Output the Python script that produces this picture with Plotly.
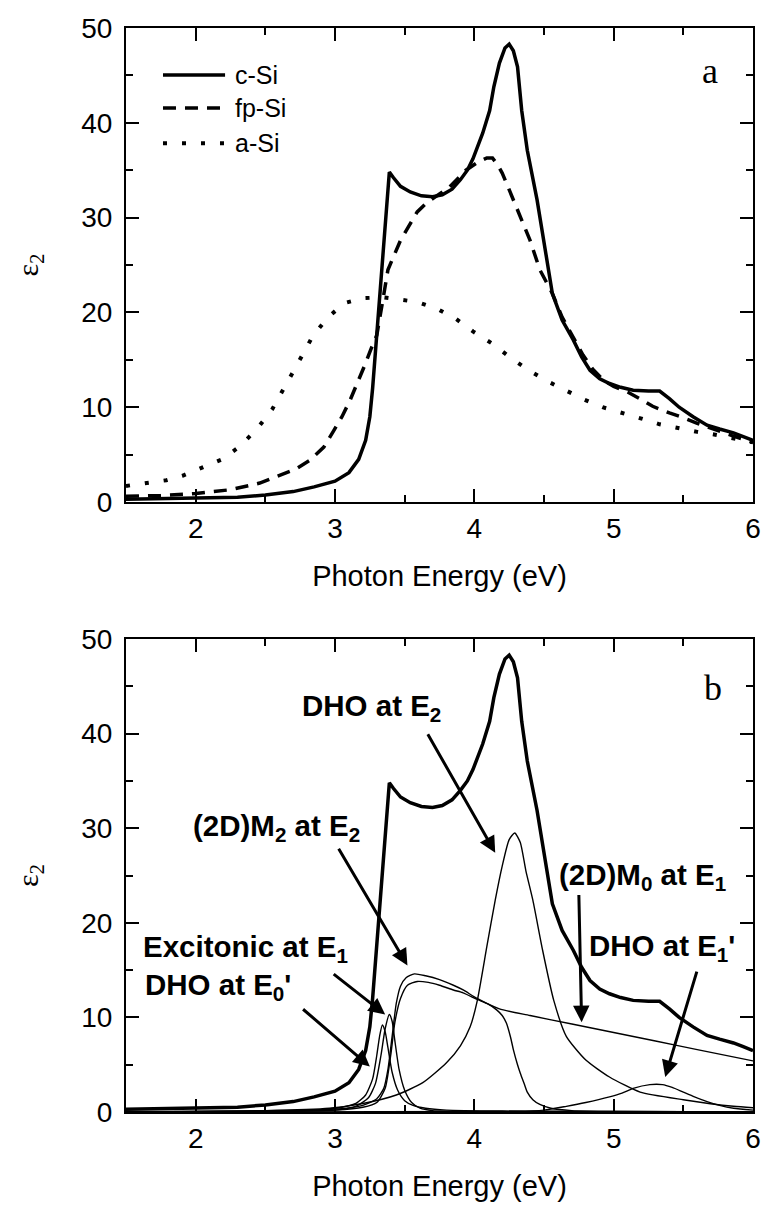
import plotly.graph_objects as go

# ---------------- Panel a data ----------------
csi_E = [1.5, 1.8, 2.0, 2.3, 2.5, 2.7, 2.85, 3.0, 3.1, 3.17, 3.22, 3.25, 3.27, 3.29, 3.32, 3.36, 3.39, 3.42,
         3.47, 3.54, 3.62, 3.70, 3.77, 3.84, 3.90, 3.95, 3.99, 4.06, 4.11, 4.14, 4.18, 4.22, 4.25, 4.28, 4.31,
         4.34, 4.38, 4.45, 4.50, 4.56, 4.63, 4.71, 4.77, 4.83, 4.90, 4.97, 5.05, 5.14, 5.25, 5.33, 5.40, 5.47,
         5.57, 5.67, 5.76, 5.86, 5.93, 6.0]
csi_eps = [0.3, 0.35, 0.4, 0.5, 0.75, 1.1, 1.6, 2.2, 3.1, 4.5, 6.5, 9.0, 12.0, 16.0, 22.0, 30.0, 34.8, 34.2,
           33.3, 32.7, 32.3, 32.2, 32.4, 33.0, 34.0, 35.0, 36.2, 38.9, 41.3, 43.8, 46.3, 47.9, 48.3, 47.6, 45.9,
           41.3, 37.1, 31.9, 27.6, 22.0, 19.2, 17.1, 15.3, 13.9, 13.0, 12.5, 12.1, 11.8, 11.7, 11.7, 10.9, 10.0,
           9.0, 8.1, 7.7, 7.3, 6.9, 6.5]

fpsi_E = [1.5, 1.75, 2.0, 2.25, 2.46, 2.6, 2.72, 2.82, 2.92, 2.99, 3.05, 3.11, 3.16, 3.21, 3.26, 3.30, 3.34,
          3.38, 3.47, 3.59, 3.66, 3.74, 3.82, 3.94, 4.02, 4.09, 4.13, 4.17, 4.20, 4.24, 4.31, 4.40, 4.47, 4.56,
          4.63, 4.71, 4.78, 4.85, 4.93, 5.0, 5.1, 5.2, 5.28, 5.4, 5.5, 5.6, 5.71, 5.85, 6.0]
fpsi_eps = [0.6, 0.7, 0.9, 1.3, 2.0, 2.8, 3.5, 4.4, 5.8, 7.5, 9.0, 10.8, 12.5, 14.3, 16.2, 17.6, 21.0,
            24.5, 27.6, 30.6, 31.6, 32.4, 33.2, 35.0, 35.8, 36.3, 36.3, 35.5, 34.7, 33.3, 30.8, 27.6, 24.5, 22.0,
            19.5, 17.3, 15.5, 14.0, 12.8, 12.2, 11.6, 10.8, 10.1, 9.4, 8.9, 8.3, 7.7, 7.0, 6.3]

asi_E = [1.5, 1.67, 1.79, 1.91, 2.05, 2.19, 2.32, 2.45, 2.55, 2.62, 2.70, 2.77, 2.84, 2.95, 3.07, 3.20, 3.34,
         3.47, 3.59, 3.73, 3.87, 3.99, 4.13, 4.27, 4.40, 4.53, 4.66, 4.79, 4.92, 5.07, 5.20, 5.33, 5.46, 5.60,
         5.73, 5.86, 6.0]
asi_eps = [1.7, 2.0, 2.3, 2.8, 3.7, 4.5, 5.9, 7.9, 9.8, 11.6, 13.7, 15.6, 17.5, 19.5, 21.0, 21.5, 21.6,
           21.3, 21.1, 20.4, 19.3, 18.0, 16.7, 15.1, 13.8, 12.7, 11.7, 10.8, 10.0, 9.4, 8.8, 8.2, 7.8, 7.4,
           7.1, 6.7, 6.3]

legend_labels = ["c-Si", "fp-Si", "a-Si"]

# ---------------- Panel b components ----------------
dho_e0p_E = [1.5, 2.5, 2.9, 3.05, 3.15, 3.22, 3.27, 3.30, 3.32, 3.34, 3.36, 3.38, 3.41, 3.45, 3.50, 3.56,
             3.65, 3.8, 4.2, 6.0]
dho_e0p_eps = [0.0, 0.1, 0.25, 0.5, 0.9, 1.8, 3.5, 6.0, 8.0, 9.2, 8.5, 6.8, 4.2, 2.3, 1.2, 0.7, 0.4, 0.2,
               0.1, 0.0]

exc_e1_E = [1.5, 2.5, 3.0, 3.15, 3.24, 3.29, 3.33, 3.36, 3.39, 3.41, 3.43, 3.46, 3.50, 3.55, 3.61, 3.7,
            4.0, 6.0]
exc_e1_eps = [0.0, 0.05, 0.2, 0.6, 1.5, 3.0, 6.0, 8.8, 10.3, 9.6, 7.5, 4.5, 2.3, 1.0, 0.4, 0.15, 0.05, 0.0]

m0_e1_E = [1.5, 2.5, 3.0, 3.2, 3.3, 3.35, 3.38, 3.41, 3.44, 3.47, 3.51, 3.57, 3.65, 3.75, 3.85, 3.92,
           4.02, 4.18, 4.4, 4.7, 5.0, 5.3, 5.6, 6.0]
m0_e1_eps = [0.0, 0.1, 0.3, 0.7, 1.4, 2.5, 4.5, 8.0, 11.5, 13.3, 14.2, 14.6, 14.4, 14.0, 13.4, 12.9,
             12.0, 10.9, 10.2, 9.3, 8.4, 7.5, 6.6, 5.4]

m2_e2_E = [1.5, 2.5, 3.0, 3.2, 3.3, 3.36, 3.40, 3.43, 3.47, 3.52, 3.59, 3.67, 3.75, 3.85, 3.92, 4.02, 4.10,
           4.16, 4.20, 4.23, 4.26, 4.28, 4.31, 4.33, 4.36, 4.38, 4.42, 4.47, 4.55, 4.7, 5.0, 6.0]
m2_e2_eps = [0.0, 0.05, 0.2, 0.5, 1.0, 2.5, 6.0, 9.5, 12.0, 13.4, 13.8, 13.7, 13.4, 12.9, 12.6, 11.9, 11.4,
             10.8, 10.2, 9.4, 7.9, 6.6, 5.0, 4.1, 2.9, 2.1, 1.3, 0.8, 0.4, 0.15, 0.05, 0.0]

dho_e2_E = [1.5, 2.5, 2.96, 3.2, 3.44, 3.63, 3.80, 3.90, 3.97, 4.02, 4.09, 4.15, 4.20, 4.25, 4.29, 4.33,
            4.37, 4.42, 4.49, 4.57, 4.66, 4.80, 4.97, 5.19, 5.5, 5.86, 6.0]
dho_e2_eps = [0.05, 0.15, 0.4, 0.9, 1.8, 3.1, 5.2, 7.0, 9.0, 11.7, 17.5, 22.4, 26.0, 28.8, 29.5, 28.5,
              25.5, 22.4, 17.1, 11.8, 8.0, 5.5, 3.7, 2.1, 1.3, 0.6, 0.45]

dho_e1p_E = [1.5, 4.3, 4.5, 4.66, 4.8, 4.97, 5.06, 5.14, 5.26, 5.35, 5.42, 5.5, 5.58, 5.67, 5.76, 5.86, 6.0]
dho_e1p_eps = [0.0, 0.05, 0.2, 0.6, 1.0, 1.6, 2.0, 2.5, 2.9, 2.9, 2.6, 2.1, 1.6, 1.1, 0.7, 0.4, 0.2]

# annotation labels, and arrows from (tail E, tail eps) to (head E, head eps)
ann_texts = ["DHO at E<sub>2</sub>", "(2D)M<sub>2</sub> at E<sub>2</sub>", "Excitonic at E<sub>1</sub>",
             "DHO at E<sub>0</sub>'", "(2D)M<sub>0</sub> at E<sub>1</sub>", "DHO at E<sub>1</sub>'"]
ann_label_E = [3.26, 2.58, 2.36, 2.16, 5.21, 5.35]
ann_label_eps = [42.8, 30.1, 17.3, 13.3, 24.9, 17.4]
ann_tail_E = [3.66, 3.02, 2.98, 2.76, 4.75, 5.60]
ann_tail_eps = [40.1, 28.0, 14.7, 11.0, 23.1, 15.0]
ann_head_E = [4.15, 3.52, 3.36, 3.25, 4.77, 5.37]
ann_head_eps = [27.4, 15.5, 10.3, 4.8, 9.5, 3.7]

# axes
x_range = [1.5, 6]
y_range = [0, 50]

FONT = "Liberation Sans, Arial, sans-serif"
SERIF = "Liberation Serif, Times New Roman, serif"
THICK = 3.5
THIN = 1.4

fig = go.Figure()

# panel a
fig.add_trace(go.Scatter(x=csi_E, y=csi_eps, mode="lines", name=legend_labels[0], xaxis="x", yaxis="y",
                         line=dict(color="black", width=THICK)))
fig.add_trace(go.Scatter(x=fpsi_E, y=fpsi_eps, mode="lines", name=legend_labels[1], xaxis="x", yaxis="y",
                         line=dict(color="black", width=THICK, dash="13px,9px")))
fig.add_trace(go.Scatter(x=asi_E, y=asi_eps, mode="lines", name=legend_labels[2], xaxis="x", yaxis="y",
                         line=dict(color="black", width=4, dash="4px,15px")))

# panel b
for xs, ys, nm in [(dho_e0p_E, dho_e0p_eps, "DHO at E0'"), (exc_e1_E, exc_e1_eps, "Excitonic at E1"),
                   (m0_e1_E, m0_e1_eps, "(2D)M0 at E1"), (m2_e2_E, m2_e2_eps, "(2D)M2 at E2"),
                   (dho_e2_E, dho_e2_eps, "DHO at E2"), (dho_e1p_E, dho_e1p_eps, "DHO at E1'")]:
    fig.add_trace(go.Scatter(x=xs, y=ys, mode="lines", name=nm, xaxis="x2", yaxis="y2",
                             line=dict(color="black", width=THIN, shape="spline", smoothing=0.6)))
fig.add_trace(go.Scatter(x=csi_E, y=csi_eps, mode="lines", name="c-Si", xaxis="x2", yaxis="y2",
                         line=dict(color="black", width=THICK)))

axis_common = dict(
    showline=True, linecolor="black", linewidth=2, mirror="allticks",
    ticks="inside", ticklen=13, tickwidth=2, tickcolor="black",
    showgrid=False, zeroline=False, layer="above traces",
    tickfont=dict(family=FONT, size=28, color="black"),
)
xtitle = dict(text="Photon Energy (eV)", font=dict(family=FONT, size=29, color="black"), standoff=23)
ytitle = dict(text="ε<sub>2</sub>", font=dict(family=SERIF, size=30, color="black"), standoff=34)

xa = dict(axis_common, range=x_range, tickmode="linear", tick0=0, dtick=1, title=xtitle,
          minor=dict(ticks="inside", ticklen=7, tickwidth=2, tickcolor="black", dtick=0.5, tick0=0,
                     showgrid=False))
ya = dict(axis_common, range=y_range, tickmode="linear", tick0=0, dtick=10, title=ytitle, ticklabelstandoff=6,
          minor=dict(ticks="inside", ticklen=7, tickwidth=2, tickcolor="black", dtick=5, tick0=0,
                     showgrid=False))

fig.update_layout(
    template="none",
    width=765, height=1214,
    margin=dict(l=126, r=12, t=28, b=102),
    plot_bgcolor="white", paper_bgcolor="white",
    xaxis=dict(xa, domain=[0, 1], anchor="y"),
    yaxis=dict(ya, domain=[0.5627, 1.0], anchor="x"),
    xaxis2=dict(xa, domain=[0, 1], anchor="y2"),
    yaxis2=dict(ya, domain=[0.0, 0.4363], anchor="x2"),
    showlegend=False,
)

# legend for panel a (sample lines + labels)
leg_dash = ["solid", "13px,9px", "4px,15px"]
leg_w = [THICK, THICK, 4]
leg_y = [0.901, 0.831, 0.757]
for lab, d, w, yy in zip(legend_labels, leg_dash, leg_w, leg_y):
    fig.add_shape(type="line", xref="x domain", yref="y domain", x0=0.059, x1=0.158, y0=yy, y1=yy,
                  line=dict(color="black", width=w, dash=d))
    fig.add_annotation(xref="x domain", yref="y domain", x=0.170, y=yy, text=lab, showarrow=False,
                       xanchor="left", yanchor="middle", font=dict(family=FONT, size=25, color="black"))

# panel letters
fig.add_annotation(xref="x domain", yref="y domain", x=0.932, y=0.9085, text="a", showarrow=False,
                   xanchor="center", yanchor="middle", font=dict(family=SERIF, size=36, color="black"))
fig.add_annotation(xref="x2 domain", yref="y2 domain", x=0.936, y=0.896, text="b", showarrow=False,
                   xanchor="center", yanchor="middle", font=dict(family=SERIF, size=36, color="black"))

# arrows and labels in panel b
for t, lx, ly, tx, ty, hx, hy in zip(ann_texts, ann_label_E, ann_label_eps, ann_tail_E, ann_tail_eps,
                                       ann_head_E, ann_head_eps):
    fig.add_annotation(xref="x2", yref="y2", axref="x2", ayref="y2", x=hx, y=hy, ax=tx, ay=ty,
                       text="", showarrow=True, arrowhead=2, arrowsize=1.1, arrowwidth=3, arrowcolor="black")
    fig.add_annotation(xref="x2", yref="y2", x=lx, y=ly, text="<b>" + t + "</b>", showarrow=False,
                       xanchor="center", yanchor="middle", font=dict(family=FONT, size=29.5, color="black"))

fig.write_html("out.html", config={"displayModeBar": False},
               post_script="document.body.style.margin='0';document.documentElement.style.overflow='hidden';")
